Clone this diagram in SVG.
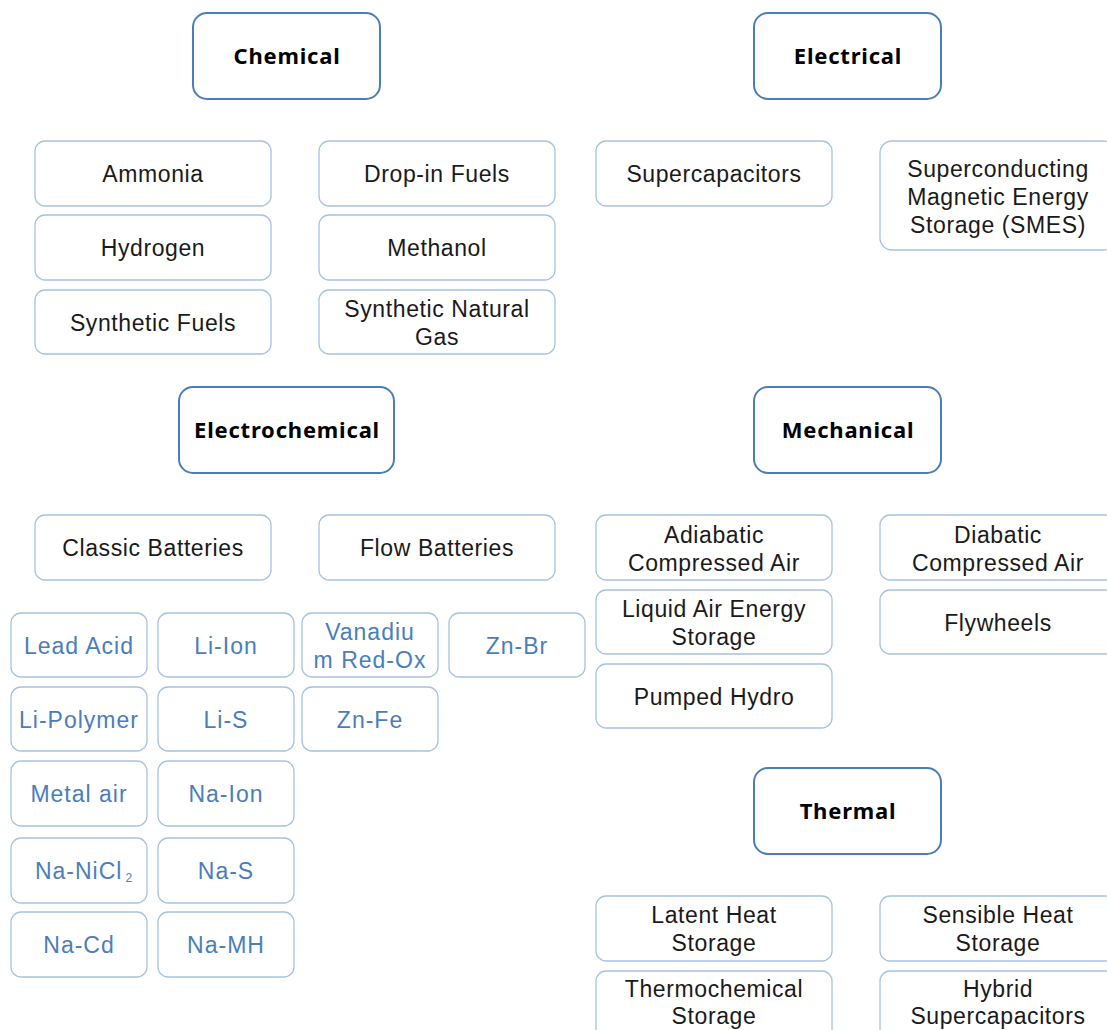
<svg xmlns="http://www.w3.org/2000/svg" width="1107" height="1030" viewBox="0 0 1107 1030">
  <style>
    .hdr rect { fill: #ffffff; stroke: #4a7ebb; stroke-width: 2; }
    .hdr text { font-family: "Noto Sans", "DejaVu Sans", sans-serif; font-weight: bold; font-size: 22px; letter-spacing: 0.8px; fill: #000; text-anchor: middle; }
    .item rect { fill: #ffffff; stroke: #a7c2e2; stroke-width: 1.3; }
    .item text { font-family: "Liberation Sans", Arial, sans-serif; font-size: 23px; letter-spacing: 0.6px; fill: #1a1a1a; text-anchor: middle; }
    .bat rect { fill: #ffffff; stroke: #a7c2e2; stroke-width: 1.3; }
    .bat text { font-family: "Liberation Sans", Arial, sans-serif; font-size: 23px; letter-spacing: 1px; fill: #4a7ebb; text-anchor: middle; }
  </style>
  <rect width="1107" height="1030" fill="#ffffff"/>

  <!-- category headers -->
  <g id="chemical" class="hdr"><rect x="193" y="13" width="187" height="86" rx="14"/><text x="287" y="64">Chemical</text></g>
  <g id="electrical" class="hdr"><rect x="754" y="13" width="187" height="86" rx="14"/><text x="848" y="64">Electrical</text></g>
  <g id="electrochemical" class="hdr"><rect x="179" y="387" width="215" height="86" rx="14"/><text x="287" y="438">Electrochemical</text></g>
  <g id="mechanical" class="hdr"><rect x="754" y="387" width="187" height="86" rx="14"/><text x="848" y="438">Mechanical</text></g>
  <g id="thermal" class="hdr"><rect x="754" y="768" width="187" height="86" rx="14"/><text x="848" y="819">Thermal</text></g>

  <!-- chemical -->
  <g id="ammonia" class="item"><rect x="35" y="141" width="236" height="65" rx="10"/><text x="153" y="182">Ammonia</text></g>
  <g id="dropin" class="item"><rect x="319" y="141" width="236" height="65" rx="10"/><text x="437" y="182">Drop-in Fuels</text></g>
  <g id="hydrogen" class="item"><rect x="35" y="215" width="236" height="65" rx="10"/><text x="153" y="256">Hydrogen</text></g>
  <g id="methanol" class="item"><rect x="319" y="215" width="236" height="65" rx="10"/><text x="437" y="256">Methanol</text></g>
  <g id="synfuels" class="item"><rect x="35" y="290" width="236" height="64" rx="10"/><text x="153" y="331">Synthetic Fuels</text></g>
  <g id="sng" class="item"><rect x="319" y="290" width="236" height="64" rx="10"/><text x="437" y="317">Synthetic Natural</text><text x="437" y="345">Gas</text></g>

  <!-- electrical -->
  <g id="supercap" class="item"><rect x="596" y="141" width="236" height="65" rx="10"/><text x="714" y="182">Supercapacitors</text></g>
  <g id="smes" class="item"><rect x="880" y="141" width="236" height="109" rx="12"/><text x="998" y="177">Superconducting</text><text x="998" y="205">Magnetic Energy</text><text x="998" y="233">Storage (SMES)</text></g>

  <!-- electrochemical -->
  <g id="classic" class="item"><rect x="35" y="515" width="236" height="65" rx="10"/><text x="153" y="556">Classic Batteries</text></g>
  <g id="flow" class="item"><rect x="319" y="515" width="236" height="65" rx="10"/><text x="437" y="556">Flow Batteries</text></g>

  <g id="leadacid" class="bat"><rect x="11" y="613" width="136" height="64" rx="10"/><text x="79" y="654">Lead Acid</text></g>
  <g id="liion" class="bat"><rect x="158" y="613" width="136" height="64" rx="10"/><text x="226" y="654">Li-Ion</text></g>
  <g id="vanadium" class="bat"><rect x="302" y="613" width="136" height="64" rx="10"/><text x="370" y="640">Vanadiu</text><text x="370" y="668">m Red-Ox</text></g>
  <g id="znbr" class="bat"><rect x="449" y="613" width="136" height="64" rx="10"/><text x="517" y="654">Zn-Br</text></g>
  <g id="lipolymer" class="bat"><rect x="11" y="687" width="136" height="64" rx="10"/><text x="79" y="728">Li-Polymer</text></g>
  <g id="lis" class="bat"><rect x="158" y="687" width="136" height="64" rx="10"/><text x="226" y="728">Li-S</text></g>
  <g id="znfe" class="bat"><rect x="302" y="687" width="136" height="64" rx="10"/><text x="370" y="728">Zn-Fe</text></g>
  <g id="metalair" class="bat"><rect x="11" y="761" width="136" height="65" rx="10"/><text x="79" y="802">Metal air</text></g>
  <g id="naion" class="bat"><rect x="158" y="761" width="136" height="65" rx="10"/><text x="226" y="802">Na-Ion</text></g>
  <g id="nanicl2" class="bat"><rect x="11" y="838" width="136" height="65" rx="10"/><text x="84" y="879">Na-NiCl<tspan font-size="12" dx="3" dy="3">2</tspan></text></g>
  <g id="nas" class="bat"><rect x="158" y="838" width="136" height="65" rx="10"/><text x="226" y="879">Na-S</text></g>
  <g id="nacd" class="bat"><rect x="11" y="912" width="136" height="65" rx="10"/><text x="79" y="953">Na-Cd</text></g>
  <g id="namh" class="bat"><rect x="158" y="912" width="136" height="65" rx="10"/><text x="226" y="953">Na-MH</text></g>

  <!-- mechanical -->
  <g id="adiabatic" class="item"><rect x="596" y="515" width="236" height="65" rx="10"/><text x="714" y="543">Adiabatic</text><text x="714" y="571">Compressed Air</text></g>
  <g id="diabatic" class="item"><rect x="880" y="515" width="236" height="65" rx="10"/><text x="998" y="543">Diabatic</text><text x="998" y="571">Compressed Air</text></g>
  <g id="liquidair" class="item"><rect x="596" y="590" width="236" height="64" rx="10"/><text x="714" y="617">Liquid Air Energy</text><text x="714" y="645">Storage</text></g>
  <g id="flywheels" class="item"><rect x="880" y="590" width="236" height="64" rx="10"/><text x="998" y="631">Flywheels</text></g>
  <g id="pumped" class="item"><rect x="596" y="664" width="236" height="64" rx="10"/><text x="714" y="705">Pumped Hydro</text></g>

  <!-- thermal -->
  <g id="latent" class="item"><rect x="596" y="896" width="236" height="65" rx="10"/><text x="714" y="923">Latent Heat</text><text x="714" y="951">Storage</text></g>
  <g id="sensible" class="item"><rect x="880" y="896" width="236" height="65" rx="10"/><text x="998" y="923">Sensible Heat</text><text x="998" y="951">Storage</text></g>
  <g id="thermochem" class="item"><rect x="596" y="971" width="236" height="70" rx="10"/><text x="714" y="997">Thermochemical</text><text x="714" y="1024">Storage</text></g>
  <g id="hybrid" class="item"><rect x="880" y="971" width="236" height="70" rx="10"/><text x="998" y="997">Hybrid</text><text x="998" y="1024">Supercapacitors</text></g>

  <!-- no connectors are drawn between the boxes -->
  <g id="connectors"/>
</svg>
